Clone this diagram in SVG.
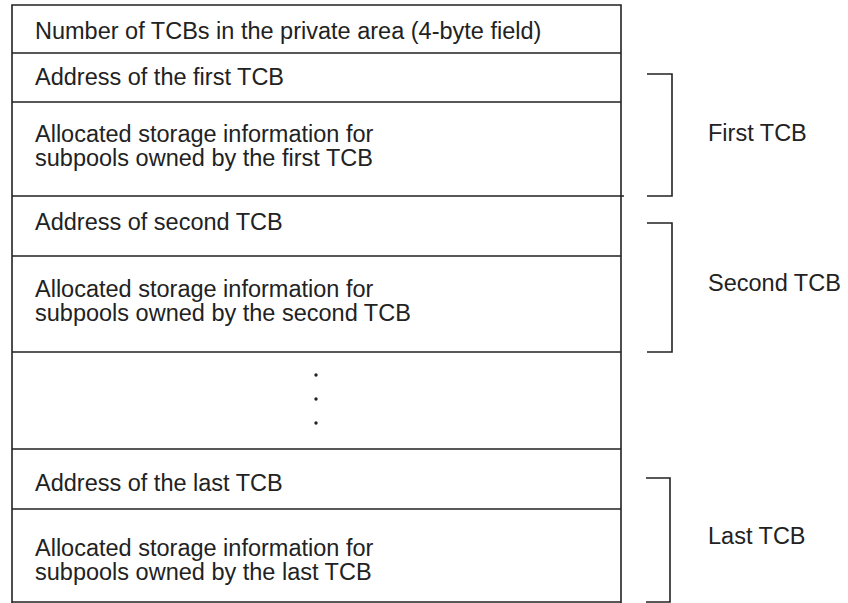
<svg xmlns="http://www.w3.org/2000/svg" width="848" height="603" viewBox="0 0 848 603">
<style>
  .ln { stroke: #222; stroke-width: 1.6; fill: none; }
  .br { stroke: #222; stroke-width: 1.6; fill: none; }
  text { font-family: "Liberation Sans", Arial, Helvetica, sans-serif; font-size: 23.5px; fill: #222; }
</style>
<rect width="848" height="603" fill="#fff"/>
<g id="table">
  <path class="ln" d="M12 603 V5 H621 V603"/>
  <path class="ln" d="M12 53 H621 M12 102 H621 M12 196 H624 M12 256 H621 M12 352 H621 M12 449 H621 M12 602 H621"/>
  <path class="ln" d="M12 509 H621" stroke-width="2.2"/>
</g>
<g id="row-count"><text x="35" y="39">Number of TCBs in the private area (4-byte field)</text></g>
<g id="row-addr1"><text x="35" y="85">Address of the first TCB</text></g>
<g id="row-alloc1"><text x="35" y="142">Allocated storage information for</text><text x="35" y="166">subpools owned by the first TCB</text></g>
<g id="row-addr2"><text x="35" y="230">Address of second TCB</text></g>
<g id="row-alloc2"><text x="35" y="297">Allocated storage information for</text><text x="35" y="321">subpools owned by the second TCB</text></g>
<g id="row-dots"><circle cx="316" cy="375" r="1.7" fill="#222"/><circle cx="316" cy="399" r="1.7" fill="#222"/><circle cx="316" cy="423" r="1.7" fill="#222"/></g>
<g id="row-addrlast"><text x="35" y="491">Address of the last TCB</text></g>
<g id="row-alloclast"><text x="35" y="556">Allocated storage information for</text><text x="35" y="580">subpools owned by the last TCB</text></g>
<g id="connectors">
  <path class="br" d="M647 74 H672 V196 H647"/>
  <path class="br" d="M647 223 H672 V352 H647"/>
  <path class="br" d="M646 478 H670 V602 H646"/>
</g>
<g id="label-first"><text x="708" y="141">First TCB</text></g>
<g id="label-second"><text x="708" y="291">Second TCB</text></g>
<g id="label-last"><text x="708" y="544">Last TCB</text></g>
</svg>
